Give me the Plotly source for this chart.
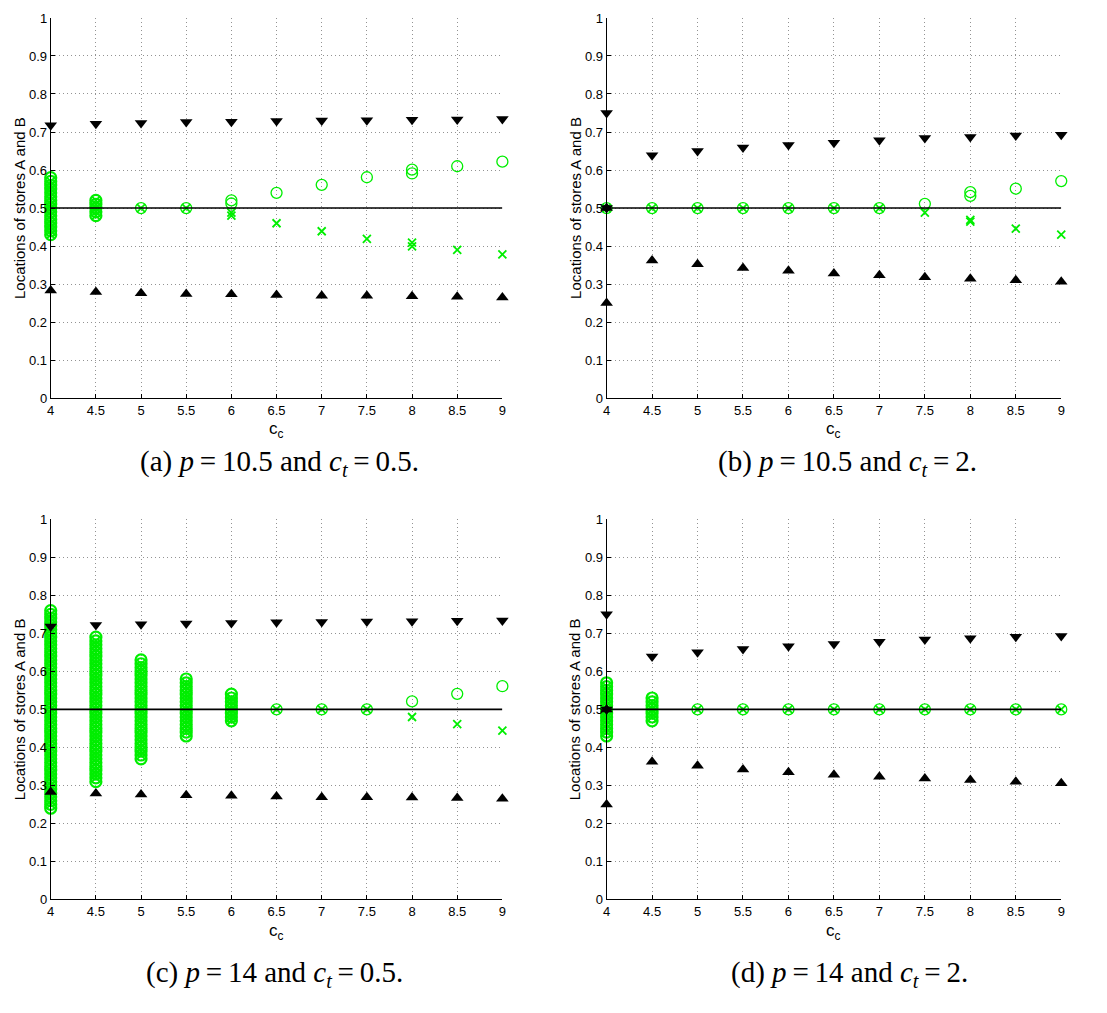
import plotly.graph_objects as go

# ---------------- data ----------------
CC = [4, 4.5, 5, 5.5, 6, 6.5, 7, 7.5, 8, 8.5, 9]
CC_TICKTEXT = ["4", "4.5", "5", "5.5", "6", "6.5", "7", "7.5", "8", "8.5", "9"]
LOC_TICKS = [0, 0.1, 0.2, 0.3, 0.4, 0.5, 0.6, 0.7, 0.8, 0.9, 1]
LOC_TICKTEXT = ["0", "0.1", "0.2", "0.3", "0.4", "0.5", "0.6", "0.7", "0.8", "0.9", "1"]
REF_LOC = 0.5

CAPTIONS = [
    "(a) <i>p</i>\u2009=\u200910.5 and <i>c</i><sub><i>t</i></sub>\u2009=\u20090.5.",
    "(b) <i>p</i>\u2009=\u200910.5 and <i>c</i><sub><i>t</i></sub>\u2009=\u20092.",
    "(c) <i>p</i>\u2009=\u200914 and <i>c</i><sub><i>t</i></sub>\u2009=\u20090.5.",
    "(d) <i>p</i>\u2009=\u200914 and <i>c</i><sub><i>t</i></sub>\u2009=\u20092.",
]
X_TITLE = "c<sub>c</sub>"
Y_TITLE = "Locations of stores A and B"

# black markers (aligned with CC): c_t = 0.5 (panels a, c)
upper_ct05 = [[0.718], [0.722], [0.724], [0.726], [0.727], [0.729], [0.730], [0.731], [0.732], [0.733], [0.734]]
lower_ct05 = [[0.283], [0.279], [0.276], [0.274], [0.273], [0.271], [0.269], [0.269], [0.268], [0.267], [0.265]]
# c_t = 2 (panels b, d)
upper_ct2 = [[0.75, 0.5], [0.639], [0.650], [0.659], [0.666], [0.672], [0.678], [0.684], [0.687], [0.691], [0.693]]
lower_ct2 = [[0.25, 0.5], [0.362], [0.352], [0.342], [0.335], [0.328], [0.323], [0.318], [0.314], [0.310], [0.306]]

# green markers, panel (a)
a_storeA = [
    [0.43, 0.44, 0.45, 0.46, 0.47, 0.48, 0.49, 0.50, 0.51, 0.52, 0.53, 0.54, 0.55, 0.56, 0.57, 0.58],
    [0.48, 0.49, 0.50, 0.51, 0.52],
    [0.5], [0.5], [0.52, 0.512], [0.54], [0.561], [0.581], [0.601, 0.591], [0.61], [0.622],
]
a_storeB = [
    [0.43, 0.44, 0.45, 0.46, 0.47, 0.48, 0.49, 0.50, 0.51, 0.52, 0.53, 0.54, 0.55, 0.56, 0.57],
    [0.48, 0.49, 0.50, 0.51, 0.52],
    [0.5], [0.5], [0.48, 0.488], [0.46], [0.439], [0.419], [0.399, 0.409], [0.39], [0.378],
]
# panel (b)
b_storeA = [[0.5], [0.5], [0.5], [0.5], [0.5], [0.5], [0.5], [0.511], [0.542, 0.532], [0.551], [0.571]]
b_storeB = [[0.5], [0.5], [0.5], [0.5], [0.5], [0.5], [0.5], [0.488], [0.469, 0.464], [0.446], [0.430]]
# panel (c)
c_storeA = [
    [0.24, 0.25, 0.26, 0.27, 0.28, 0.29, 0.30, 0.31, 0.32, 0.33, 0.34, 0.35, 0.36, 0.37, 0.38, 0.39,
     0.40, 0.41, 0.42, 0.43, 0.44, 0.45, 0.46, 0.47, 0.48, 0.49, 0.50, 0.51, 0.52, 0.53, 0.54, 0.55,
     0.56, 0.57, 0.58, 0.59, 0.60, 0.61, 0.62, 0.63, 0.64, 0.65, 0.66, 0.67, 0.68, 0.69, 0.70, 0.71,
     0.72, 0.73, 0.74, 0.75, 0.76],
    [0.31, 0.32, 0.33, 0.34, 0.35, 0.36, 0.37, 0.38, 0.39, 0.40, 0.41, 0.42, 0.43, 0.44, 0.45, 0.46,
     0.47, 0.48, 0.49, 0.50, 0.51, 0.52, 0.53, 0.54, 0.55, 0.56, 0.57, 0.58, 0.59, 0.60, 0.61, 0.62,
     0.63, 0.64, 0.65, 0.66, 0.67, 0.68, 0.69],
    [0.37, 0.38, 0.39, 0.40, 0.41, 0.42, 0.43, 0.44, 0.45, 0.46, 0.47, 0.48, 0.49, 0.50, 0.51, 0.52,
     0.53, 0.54, 0.55, 0.56, 0.57, 0.58, 0.59, 0.60, 0.61, 0.62, 0.63],
    [0.43, 0.44, 0.45, 0.46, 0.47, 0.48, 0.49, 0.50, 0.51, 0.52, 0.53, 0.54, 0.55, 0.56, 0.57, 0.58],
    [0.47, 0.48, 0.49, 0.50, 0.51, 0.52, 0.53, 0.54],
    [0.5], [0.5], [0.5], [0.521], [0.541], [0.561],
]
c_storeB = [
    [0.25, 0.26, 0.27, 0.28, 0.29, 0.30, 0.31, 0.32, 0.33, 0.34, 0.35, 0.36, 0.37, 0.38, 0.39,
     0.40, 0.41, 0.42, 0.43, 0.44, 0.45, 0.46, 0.47, 0.48, 0.49, 0.50, 0.51, 0.52, 0.53, 0.54, 0.55,
     0.56, 0.57, 0.58, 0.59, 0.60, 0.61, 0.62, 0.63, 0.64, 0.65, 0.66, 0.67, 0.68, 0.69, 0.70, 0.71,
     0.72, 0.73, 0.74, 0.75],
    [0.32, 0.33, 0.34, 0.35, 0.36, 0.37, 0.38, 0.39, 0.40, 0.41, 0.42, 0.43, 0.44, 0.45, 0.46,
     0.47, 0.48, 0.49, 0.50, 0.51, 0.52, 0.53, 0.54, 0.55, 0.56, 0.57, 0.58, 0.59, 0.60, 0.61, 0.62,
     0.63, 0.64, 0.65, 0.66, 0.67, 0.68],
    [0.38, 0.39, 0.40, 0.41, 0.42, 0.43, 0.44, 0.45, 0.46, 0.47, 0.48, 0.49, 0.50, 0.51, 0.52,
     0.53, 0.54, 0.55, 0.56, 0.57, 0.58, 0.59, 0.60, 0.61, 0.62],
    [0.44, 0.45, 0.46, 0.47, 0.48, 0.49, 0.50, 0.51, 0.52, 0.53, 0.54, 0.55, 0.56, 0.57],
    [0.47, 0.48, 0.49, 0.50, 0.51, 0.52, 0.53],
    [0.5], [0.5], [0.5], [0.480], [0.461], [0.444],
]
# panel (d)
d_storeA = [
    [0.43, 0.44, 0.45, 0.46, 0.47, 0.48, 0.49, 0.50, 0.51, 0.52, 0.53, 0.54, 0.55, 0.56, 0.57],
    [0.47, 0.48, 0.49, 0.50, 0.51, 0.52, 0.53],
    [0.5], [0.5], [0.5], [0.5], [0.5], [0.5], [0.5], [0.5], [0.5],
]
d_storeB = [
    [0.44, 0.45, 0.46, 0.47, 0.48, 0.49, 0.50, 0.51, 0.52, 0.53, 0.54, 0.55, 0.56],
    [0.48, 0.49, 0.50, 0.51, 0.52],
    [0.5], [0.5], [0.5], [0.5], [0.5], [0.5], [0.5], [0.5], [0.5],
]

PANELS = [
    (a_storeA, a_storeB, upper_ct05, lower_ct05),
    (b_storeA, b_storeB, upper_ct2, lower_ct2),
    (c_storeA, c_storeB, upper_ct05, lower_ct05),
    (d_storeA, d_storeB, upper_ct2, lower_ct2),
]

# ---------------- layout geometry (page pixels) ----------------
PAGE_OFF = 8                      # default body margin of the html page
W, H = 1107 - 2 * PAGE_OFF, 1013 - 2 * PAGE_OFF
# plot areas on the page: (left, right, top, bottom)
AREAS = [(47, 502, 11, 397), (607, 1065, 11, 397), (47, 502, 520, 906), (607, 1065, 520, 906)]
YTITLE_X = [15, 575, 15, 575]
XTITLE_Y = [429, 429, 939, 939]
CAPTION_POS = [(277, 463), (850, 463), (272, 982), (852, 982)]

GREEN = "#00ee00"
GRID = "#939393"
SANS = "Liberation Sans, Arial, sans-serif"
SERIF = "Liberation Serif, Times New Roman, serif"


def px(xp):
    return (xp - PAGE_OFF) / W


def py(yp):
    return 1 - (yp - PAGE_OFF) / H


def flatten(groups):
    xs, ys, ws = [], [], []
    for c, vals in zip(CC, groups):
        for v in vals:
            xs.append(c)
            ys.append(v)
            ws.append(2.2 if len(vals) > 2 else 1.3)   # overlapping runs drawn slightly bolder
    return xs, ys, ws


fig = go.Figure()
layout = dict(
    width=W, height=H, margin=dict(l=0, r=0, t=0, b=0),
    paper_bgcolor="white", plot_bgcolor="white", showlegend=False,
    annotations=[],
)

axis_common = dict(
    tickfont=dict(family=SANS, size=13, color="black"),
    showline=True, linecolor="black", linewidth=1, mirror=False,
    ticks="inside", ticklen=4, tickcolor="black",
    showgrid=True, gridcolor=GRID, griddash="1px,3px", gridwidth=1, zeroline=False,
)

for i, (sA, sB, up, lo) in enumerate(PANELS):
    n = "" if i == 0 else str(i + 1)
    xa, ya = "x" + n, "y" + n
    l, r, t, b = AREAS[i]
    layout["xaxis" + n] = dict(domain=[px(l), px(r)], range=[4, 9], anchor=ya,
                               tickvals=CC, ticktext=CC_TICKTEXT, **axis_common)
    layout["yaxis" + n] = dict(domain=[py(b), py(t)], range=[0, 1], anchor=xa,
                               tickvals=LOC_TICKS, ticktext=LOC_TICKTEXT, **axis_common)
    gx, gy, gw = flatten(sA)
    fig.add_trace(go.Scatter(x=gx, y=gy, xaxis=xa, yaxis=ya, mode="markers", cliponaxis=False,
                             marker=dict(symbol="circle-open", size=11, color=GREEN, line=dict(width=gw, color=GREEN))))
    gx, gy, gw = flatten(sB)
    fig.add_trace(go.Scatter(x=gx, y=gy, xaxis=xa, yaxis=ya, mode="markers", cliponaxis=False,
                             marker=dict(symbol="x-thin-open", size=8, color=GREEN, line=dict(width=1.8, color=GREEN))))
    ux, uy, _ = flatten(up)
    fig.add_trace(go.Scatter(x=ux, y=uy, xaxis=xa, yaxis=ya, mode="markers", cliponaxis=False,
                             marker=dict(symbol="triangle-down", size=11, color="black", line=dict(width=0))))
    lx, ly, _ = flatten(lo)
    fig.add_trace(go.Scatter(x=lx, y=ly, xaxis=xa, yaxis=ya, mode="markers", cliponaxis=False,
                             marker=dict(symbol="triangle-up", size=11, color="black", line=dict(width=0))))
    fig.add_trace(go.Scatter(x=[CC[0], CC[-1]], y=[REF_LOC, REF_LOC], xaxis=xa, yaxis=ya, mode="lines",
                             line=dict(color="black", width=1.6)))

    layout["annotations"].append(dict(
        text=Y_TITLE, textangle=-90, xref="paper", yref="paper",
        x=px(YTITLE_X[i]), y=py((t + b) / 2), xanchor="center", yanchor="middle",
        showarrow=False, font=dict(family=SANS, size=15, color="black")))
    layout["annotations"].append(dict(
        text=X_TITLE, xref="paper", yref="paper",
        x=px((l + r) / 2), y=py(XTITLE_Y[i]), xanchor="center", yanchor="middle",
        showarrow=False, font=dict(family=SANS, size=17, color="black")))
    cx, cy = CAPTION_POS[i]
    layout["annotations"].append(dict(
        text=CAPTIONS[i], xref="paper", yref="paper",
        x=px(cx), y=py(cy), xanchor="center", yanchor="middle",
        showarrow=False, font=dict(family=SERIF, size=29, color="black")))

fig.update_layout(**layout)
fig.write_html("out.html")
